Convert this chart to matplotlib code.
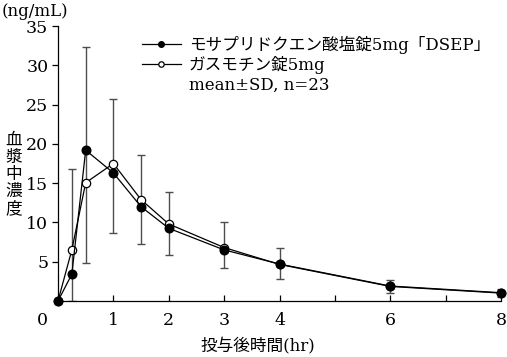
import numpy as np
import matplotlib.pyplot as plt
from matplotlib.transforms import ScaledTranslation

plt.rcParams['font.family'] = ['DejaVu Serif', 'Noto Sans CJK JP']

# time after dosing (hr)
t = [0, 0.25, 0.5, 1, 1.5, 2, 3, 4, 6, 8]
# plasma concentration (ng/mL)
mosapride = [0, 3.4, 19.2, 16.3, 12.0, 9.25, 6.5, 4.7, 1.9, 1.05]
gasmotin = [0, 6.5, 15.05, 17.5, 12.9, 9.8, 6.8, 4.65, 1.85, 1.0]
# SD bar ends
sd_low = [0, 0, 4.8, 8.7, 7.3, 5.85, 4.2, 2.85, 1.05, 0.55]
sd_high = [0, 16.8, 32.3, 25.7, 18.6, 13.9, 10.1, 6.8, 2.7, 1.5]

label_a = 'モサプリドクエン酸塩錠5mg「DSEP」'
label_b = 'ガスモチン錠5mg'
note = 'mean±SD, n=23'

fig = plt.figure(figsize=(5.07, 3.57), dpi=100)
ax = fig.add_axes([0.1144, 0.157, 0.8738, 0.770])

lo = np.array(sd_low)
hi = np.array(sd_high)
mid = (lo + hi) / 2
half = (hi - lo) / 2
ax.errorbar(t[1:], mid[1:], yerr=half[1:], fmt='none', ecolor='0.3',
            elinewidth=1.0, capsize=3, capthick=1.0, zorder=1)

ax.plot(t, gasmotin, '-o', color='black', mfc='white', mec='black',
        ms=6.0, lw=0.9, mew=0.9, clip_on=False, zorder=3, label=label_b)
ax.plot(t, mosapride, '-o', color='black', mfc='black', mec='black',
        ms=6.2, lw=0.9, clip_on=False, zorder=4, label=label_a)

ax.set_xlim(0, 8)
ax.set_ylim(0, 35)
ax.spines['top'].set_visible(False)
ax.spines['right'].set_visible(False)
for s in ('left', 'bottom'):
    ax.spines[s].set_linewidth(0.9)

ax.set_yticks([5, 10, 15, 20, 25, 30, 35])
ax.tick_params(axis='y', direction='out', length=4, width=0.9,
               labelsize=12.5, pad=3)
ax.set_xticks([0, 1, 2, 3, 4, 5, 6, 7, 8])
ax.set_xticklabels(['0', '1', '2', '3', '4', '', '6', '', '8'])
ax.tick_params(axis='x', direction='in', length=4, width=0.9,
               labelsize=12.5, pad=8)
lbl0 = ax.get_xticklabels()[0]
lbl0.set_transform(lbl0.get_transform() + ScaledTranslation(-0.16, 0, fig.dpi_scale_trans))

ax.set_xlabel('投与後時間(hr)', fontsize=12)
ax.xaxis.set_label_coords(0.45, -0.135)
fig.text(0.004, 0.968, '(ng/mL)', fontsize=12, ha='left', va='center')
fig.text(0.027, 0.512, '\n'.join('血漿中濃度'), fontsize=12, ha='center',
         va='center', linespacing=1.0)

h, l = ax.get_legend_handles_labels()
blank, = ax.plot([], [], color='none')
leg = ax.legend([h[1], h[0], blank], [l[1], l[0], note], loc='upper left',
                bbox_to_anchor=(0.175, 0.99), frameon=False, fontsize=12,
                handlelength=2.3, handletextpad=0.5, labelspacing=0.15,
                markerscale=0.65, borderaxespad=0)

fig.savefig('out.png', dpi=100)
